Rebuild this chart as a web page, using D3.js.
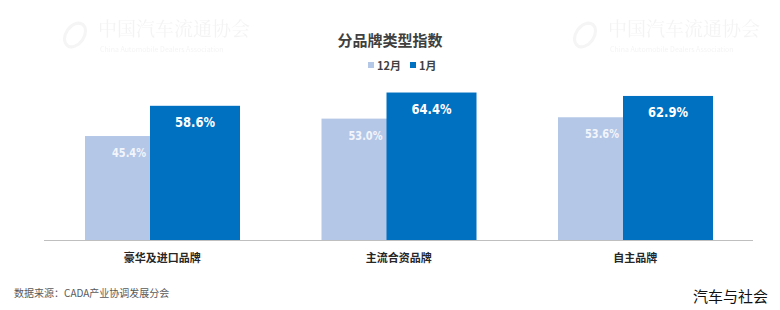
<!DOCTYPE html>
<html>
<head>
<meta charset="utf-8">
<script src="https://cdn.jsdelivr.net/npm/d3@7"></script>
<style>
  body { margin: 0; background: #fff; }
  svg text { font-family: "Noto Sans CJK SC", "Noto Sans", sans-serif; }
</style>
</head>
<body>
<div id="chart"></div>
<script>
// 数据
const categories = ["豪华及进口品牌", "主流合资品牌", "自主品牌"];
const seriesNames = ["12月", "1月"];
const valuesDec = [45.4, 53.0, 53.6];
const valuesJan = [58.6, 64.4, 62.9];
const seriesColors = ["#b4c7e7", "#0070c0"];

const width = 780, height = 310;
const plot = { left: 44, right: 753, top: 90, bottom: 240 };

const svg = d3.select("#chart").append("svg")
  .attr("width", width)
  .attr("height", height);

// 水印（上部のみ）
const marks = [[60, 36], [570, 36]];
const wm = svg.append("g").attr("opacity", 0.07);
marks.forEach(([mx, my]) => {
  wm.append("ellipse").attr("cx", mx + 15).attr("cy", my - 1).attr("rx", 9).attr("ry", 13)
    .attr("transform", `rotate(35,${mx + 15},${my - 1})`)
    .attr("fill", "none").attr("stroke", "#666").attr("stroke-width", 3);
  wm.append("text").attr("x", mx + 38).attr("y", my)
    .style("font-family", "'Noto Serif CJK SC', 'Noto Sans CJK SC', serif")
    .style("font-size", "19px").attr("fill", "#555").text("中国汽车流通协会");
  wm.append("text").attr("x", mx + 40).attr("y", my + 16)
    .style("font-size", "7px").attr("fill", "#555").text("China Automobile Dealers Association");
});

// タイトル
svg.append("text")
  .attr("x", 390).attr("y", 46)
  .attr("text-anchor", "middle")
  .style("font-size", "15px").style("font-weight", "bold")
  .attr("fill", "#404040")
  .text("分品牌类型指数");

// 凡例
const legend = svg.selectAll(".legend")
  .data(seriesNames).enter().append("g")
  .attr("class", "legend")
  .attr("transform", (d, i) => `translate(${i === 0 ? 368 : 410},66)`);
legend.append("rect").attr("x", 0).attr("y", -4).attr("width", 6).attr("height", 6)
  .attr("fill", (d, i) => seriesColors[i]);
legend.append("text").attr("x", 9).attr("y", 0).attr("dy", "0.35em")
  .style("font-size", "11px").style("font-weight", "bold").attr("fill", "#404040")
  .text(d => d);

// スケール
const x = d3.scaleBand().domain(categories).range([plot.left, plot.right + 0.5]);
const y = d3.scaleLinear().domain([0, 100]).range([plot.bottom, plot.bottom - 229]);

const barW = 90, offset = 65;
const series = [valuesDec, valuesJan];

series.forEach((vals, si) => {
  const g = svg.append("g");
  g.selectAll("rect").data(vals).enter().append("rect")
    .attr("x", (d, i) => x(categories[i]) + 41 + si * offset)
    .attr("y", d => y(d))
    .attr("width", barW)
    .attr("height", d => y(0) - y(d))
    .attr("fill", seriesColors[si]);
  g.selectAll("text").data(vals).enter().append("text")
    .attr("x", (d, i) => x(categories[i]) + 41 + si * offset + barW / 2 + (si === 0 ? -1 : 0))
    .attr("y", d => y(d) + 21)
    .attr("text-anchor", "middle")
    .attr("textLength", si === 0 ? 34 : 40)
    .attr("lengthAdjust", "spacingAndGlyphs")
    .style("font-family", "'DejaVu Sans', sans-serif")
    .style("font-size", si === 0 ? "13px" : "14px").style("font-weight", "bold")
    .attr("fill", si === 0 ? "#f2f5fb" : "#ffffff")
    .text(d => d.toFixed(1) + "%");
});

// X軸
svg.append("line")
  .attr("x1", plot.left).attr("x2", plot.right)
  .attr("y1", plot.bottom + 0.5).attr("y2", plot.bottom + 0.5)
  .attr("stroke", "#bfbfbf").attr("stroke-width", 1);

svg.selectAll(".cat").data(categories).enter().append("text")
  .attr("class", "cat")
  .attr("x", d => x(d) + x.bandwidth() / 2)
  .attr("y", 262)
  .attr("text-anchor", "middle")
  .style("font-size", "11px").style("font-weight", "bold").attr("fill", "#262626")
  .text(d => d);

// 出典
svg.append("text")
  .attr("x", 14).attr("y", 297)
  .style("font-size", "10px").attr("fill", "#595959")
  .text("数据来源：CADA产业协调发展分会");

svg.append("text")
  .attr("x", 768).attr("y", 302)
  .attr("text-anchor", "end")
  .style("font-size", "15px").attr("fill", "#111")
  .text("汽车与社会");
</script>
</body>
</html>
